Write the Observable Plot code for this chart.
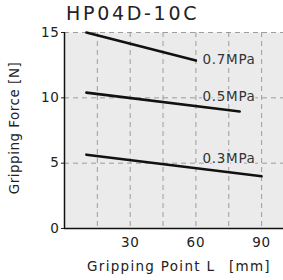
<!DOCTYPE html>
<html>
<head>
<meta charset="utf-8">
<script src="https://cdn.jsdelivr.net/npm/d3@7"></script>
<script src="https://cdn.jsdelivr.net/npm/@observablehq/plot@0.6"></script>
<style>
  html, body { margin: 0; padding: 0; background: #fff; }
  body { width: 283px; height: 280px; overflow: hidden; position: relative; font-family: "DejaVu Sans", sans-serif; color: #222; }
  #chart { position: absolute; left: 0; top: 0; }
  #title { position: absolute; left: 66px; top: 1px; font-size: 19px; line-height: 24px; letter-spacing: 2.7px; white-space: nowrap; }
  #xlabel { position: absolute; left: 179px; top: 257px; transform: translateX(-50%); font-size: 13.5px; line-height: 18px; letter-spacing: 1.3px; white-space: pre; }
  #ylabel { position: absolute; left: 14px; top: 128px; transform: translate(-50%, -50%) rotate(-90deg); font-size: 13.5px; line-height: 18px; letter-spacing: 0.5px; white-space: pre; }
</style>
</head>
<body>
<div id="chart"></div>
<div id="title"></div>
<div id="xlabel"></div>
<div id="ylabel"></div>
<script>
const title = "HP04D-10C";
const xLabel = "Gripping Point L\u2002 [mm]";
const yLabel = "Gripping Force [N]";
const pressures = ["0.3MPa", "0.5MPa", "0.7MPa"];
const pointsL = {
  "0.3MPa": [10, 90],
  "0.5MPa": [10, 80],
  "0.7MPa": [10, 60]
};
const forces = {
  "0.3MPa": [5.65, 4.0],
  "0.5MPa": [10.4, 8.95],
  "0.7MPa": [15.0, 12.85]
};
const labelL = [63, 63, 63];
const labelF = [5.35, 10.1, 12.93];
const xTicks = [30, 60, 90];
const xGrid = [15, 30, 45, 60, 75, 90];
const yTicks = [0, 5, 10, 15];

const rows = pressures.flatMap(p => pointsL[p].map((L, i) => ({p, L, F: forces[p][i]})));
const labels = pressures.map((p, i) => ({p, L: labelL[i], F: labelF[i]}));

const chart = Plot.plot({
  width: 283,
  height: 280,
  marginLeft: 64,
  marginTop: 32,
  marginBottom: 52,
  marginRight: 0,
  style: {fontFamily: '"DejaVu Sans", sans-serif', fontSize: "13.5px", color: "#222", background: "transparent", letterSpacing: "0.7px"},
  x: {domain: [0, 100], ticks: xTicks, tickSize: 0, tickPadding: 9, label: null},
  y: {domain: [0, 15], ticks: yTicks, tickSize: 3, tickPadding: 2, label: null},
  marks: [
    Plot.frame({fill: "#ebebeb", stroke: null}),
    Plot.gridX(xGrid, {stroke: "#888", strokeOpacity: 1, strokeWidth: 0.8, strokeDasharray: "5,4"}),
    Plot.gridY(yTicks.filter(d => d > 0), {stroke: "#888", strokeOpacity: 1, strokeWidth: 0.8, strokeDasharray: "5,4"}),
    Plot.ruleX([0], {stroke: "#111", strokeWidth: 1.5}),
    Plot.ruleY([0], {stroke: "#111", strokeWidth: 1.5}),
    Plot.line(rows, {x: "L", y: "F", z: "p", stroke: "#111", strokeWidth: 2.6}),
    Plot.text(labels, {x: "L", y: "F", text: "p", textAnchor: "start", fill: "#333", fontSize: 13.5, stroke: "#ebebeb", strokeWidth: 3})
  ]
});
document.getElementById("chart").appendChild(chart);
document.getElementById("title").textContent = title;
document.getElementById("xlabel").textContent = xLabel;
document.getElementById("ylabel").textContent = yLabel;
</script>
</body>
</html>
